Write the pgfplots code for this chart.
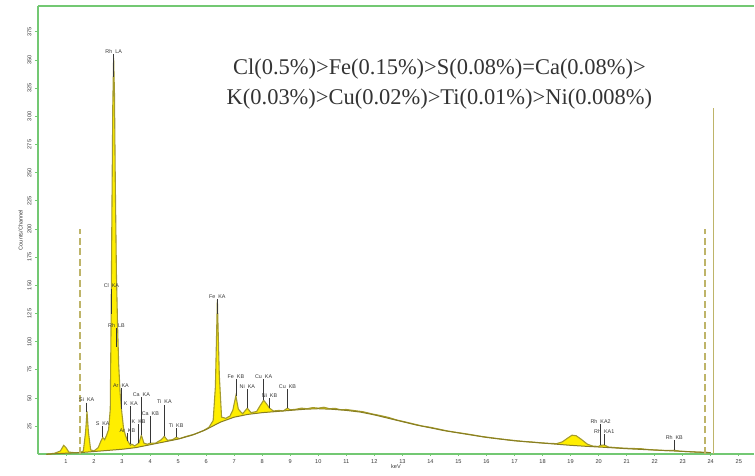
\documentclass[border=0pt]{standalone}
\usepackage{pgfplots}
\pgfplotsset{compat=1.18}
\usepgfplotslibrary{fillbetween}
\usepackage{pgfplotstable}
\usepackage{fontspec}
\setmainfont{Liberation Serif}
\newfontfamily\lab{Liberation Sans}
\definecolor{axgreen}{RGB}{115,200,115}
\definecolor{specyel}{RGB}{255,238,0}
\definecolor{olivel}{RGB}{165,155,45}
\definecolor{oliveb}{RGB}{135,125,35}
\definecolor{khaki2}{RGB}{190,180,105}
\definecolor{labc}{RGB}{55,55,55}

\pgfplotstableread{
E c
0.3 0
0.6 0.5
1.0 1
1.5 1.5
2.0 2.5
2.5 3.5
3.0 4.5
3.5 6
4.0 8.5
4.5 11
5.0 13.5
5.5 17
6.0 22
6.5 28.5
7.0 33
7.5 35.5
8.0 37
8.5 38
9.0 39
9.5 40
10.0 40.5
10.5 40
11.0 39
11.5 37.5
12.0 35
12.5 32
13.0 29
13.5 26
14.0 23.5
14.5 21
15.0 19
15.5 17
16.0 15
16.5 13.5
17.0 12
17.5 11
18.0 10
18.5 9
19.0 8
19.5 7.2
20.0 6.5
20.5 5.8
21.0 5
21.5 4.4
22.0 3.8
22.5 3.2
23.0 2.6
23.5 2
24.0 1.5
}\bgtab

\pgfplotstableread{
E c
0.3 0
0.6 1
0.8 3
0.92 8
1.0 6
1.1 2
1.3 1.5
1.5 1.5
1.62 3
1.70 20
1.75 38
1.80 20
1.88 4
2.0 3
2.15 6
2.25 12
2.31 15
2.38 13
2.45 17
2.52 22
2.58 40
2.61 120
2.64 220
2.67 310
2.70 352
2.73 320
2.76 240
2.80 160
2.84 115
2.88 80
2.93 55
2.98 40
3.05 24
3.12 17
3.2 12
3.3 8
3.35 9
3.45 7.5
3.6 10
3.69 17
3.78 10
3.9 9
4.01 10
4.2 10
4.4 13
4.51 16
4.62 12.5
4.8 13
4.93 15
5.05 14
5.3 16
5.6 18
5.9 21
6.1 24
6.25 30
6.33 60
6.40 137
6.47 70
6.55 33
6.7 32
6.85 34
6.95 39
7.06 52
7.15 40
7.3 36
7.47 41
7.6 37
7.8 38
7.92 43
8.05 48
8.15 45
8.26 41
8.4 38.5
8.6 39
8.75 38.5
8.9 41
9.0 39.5
9.2 40
9.4 41
9.6 40.5
9.8 41.5
10.0 41
10.2 41.8
10.4 40.5
10.6 40.8
10.8 39.6
11.0 39.8
11.3 38.8
11.6 37.8
11.9 36
12.2 34.5
12.5 32.8
12.8 30.5
13.1 28.8
13.4 27
13.7 25.2
14.0 24
14.3 22.4
14.6 20.8
14.9 19.6
15.2 18.5
15.5 17.3
15.8 16
16.1 15
16.4 14
16.7 13.1
17.0 12.3
17.3 11.5
17.6 11
17.9 10.3
18.2 9.8
18.5 9.5
18.7 11
18.9 14.5
19.05 17
19.2 16.5
19.4 13
19.6 9
19.8 7.3
20.0 7
20.07 8
20.2 8.3
20.35 6.5
20.6 6
20.9 5.5
21.2 5.2
21.5 5
21.8 4.2
22.1 3.8
22.4 3.4
22.7 3.6
22.9 2.8
23.2 2.4
23.5 2
24.0 1.5
}\spectab

% E, label bottom, line bottom, text
\newcommand{\pk}[4]{%
  \draw[labc, line width=0.7pt] (axis cs:#1,#2) -- (axis cs:#1,#3);
  \node[font=\lab\fontsize{5.4}{6}\selectfont, text=labc, anchor=south, inner sep=0.6pt] at (axis cs:#1,#2) {#4};}

\begin{document}
\begin{tikzpicture}
\begin{axis}[
  scale only axis, width=717pt, height=449pt,
  xmin=0, xmax=25.54, ymin=0, ymax=398,
  axis x line*=bottom, axis y line*=left,
  axis line style={-, axgreen, line width=2.2pt},
  xtick={1,...,25}, ytick={25,50,...,375},
  tick style={axgreen, line width=0.8pt},
  major tick length=3pt,
  xtick align=center, ytick align=outside,
  /pgf/number format/assume math mode=true,
  ticklabel style={font=\lab\fontsize{5.6}{6}\selectfont, text=labc},
  yticklabel style={rotate=90, anchor=south, xshift=0pt},
  xticklabel style={yshift=0pt},
  xlabel={keV}, xlabel style={font=\lab\fontsize{5.6}{6}\selectfont, text=labc, yshift=6pt},
  ylabel={Counts/Channel}, ylabel style={font=\lab\fontsize{5.6}{6}\selectfont, text=labc, yshift=-2pt},
  clip=false,
]
\addplot[draw=none, name path=spec] table[x=E, y=c] {\spectab};
\addplot[draw=none, name path=bg] table[x=E, y=c] {\bgtab};
\addplot[specyel] fill between[of=spec and bg];
\addplot[olivel, line width=1.1pt] table[x=E, y=c] {\spectab};
\addplot[oliveb, line width=1.0pt] table[x=E, y=c] {\bgtab};

\addplot[khaki2, line width=1.7pt, dash pattern=on 7pt off 3.5pt] coordinates {(1.5,0) (1.5,200)};
\addplot[khaki2, line width=1.7pt, dash pattern=on 7pt off 3.5pt] coordinates {(23.8,0) (23.8,200)};
\addplot[khaki2, line width=1.1pt] coordinates {(24.1,0) (24.1,307)};

\draw[axgreen, line width=2.2pt] (rel axis cs:0,1) -- (rel axis cs:1,1);

\pk{2.70}{355}{335}{Rh\hspace{3pt}LA}
\pk{2.62}{147}{125}{Cl\hspace{3pt}KA}
\pk{2.80}{112}{95}{Rh\hspace{3pt}LB}
\pk{2.96}{59}{40}{Ar\hspace{3pt}KA}
\pk{1.74}{46}{38}{Si\hspace{3pt}KA}
\pk{2.31}{25}{15}{S\hspace{3pt}KA}
\pk{3.19}{18.6}{12}{Ar\hspace{3pt}KB}
\pk{3.31}{42.5}{9}{K\hspace{3pt}KA}
\pk{3.59}{27}{10}{K\hspace{3pt}KB}
\pk{3.69}{51}{17}{Ca\hspace{3pt}KA}
\pk{4.01}{34}{10}{Ca\hspace{3pt}KB}
\pk{4.51}{44}{16}{Ti\hspace{3pt}KA}
\pk{4.93}{23}{15}{Ti\hspace{3pt}KB}
\pk{6.40}{138}{125}{Fe\hspace{3pt}KA}
\pk{7.06}{67}{52}{Fe\hspace{3pt}KB}
\pk{7.47}{57.6}{41}{Ni\hspace{3pt}KA}
\pk{8.05}{67}{48}{Cu\hspace{3pt}KA}
\pk{8.26}{49.6}{41}{Ni\hspace{3pt}KB}
\pk{8.90}{57.6}{41}{Cu\hspace{3pt}KB}
\pk{20.07}{26.6}{8}{Rh\hspace{3pt}KA2}
\pk{20.2}{17.7}{8.3}{Rh\hspace{3pt}KA1}
\pk{22.7}{12.4}{3.6}{Rh\hspace{3pt}KB}

\node[font=\fontsize{22.5}{26}\selectfont, text=black!80] at (axis cs:14.32,342) {Cl(0.5\%)>Fe(0.15\%)>S(0.08\%)=Ca(0.08\%)>};
\node[font=\fontsize{22.5}{26}\selectfont, text=black!80] at (axis cs:14.32,315.6) {K(0.03\%)>Cu(0.02\%)>Ti(0.01\%)>Ni(0.008\%)};
\end{axis}
\path[use as bounding box] (-38pt,-21pt) rectangle (717pt,455pt);
\end{tikzpicture}
\end{document}
